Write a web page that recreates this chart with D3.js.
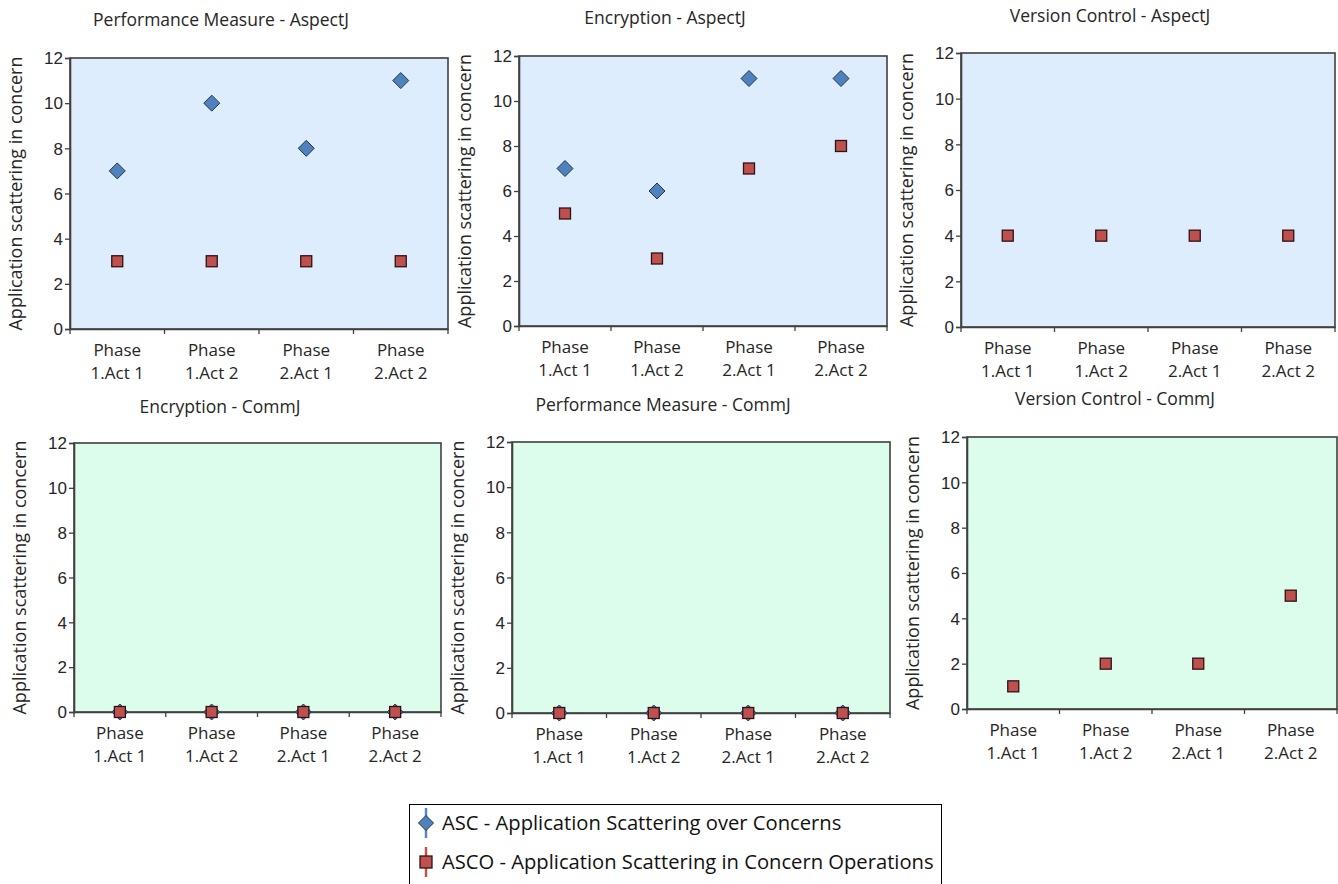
<!DOCTYPE html>
<html>
<head>
<meta charset="utf-8">
<script src="https://cdn.jsdelivr.net/npm/d3@7"></script>
<style>
  html, body { margin: 0; padding: 0; background: #ffffff; }
  svg { display: block; font-family: "Open Sans", "Noto Sans", sans-serif; }
</style>
</head>
<body>
<svg id="chart" width="1338" height="884"></svg>
<script>
// Activities on the x axis (first word on line one, rest on line two)
const categories = ["Phase 1.Act 1", "Phase 1.Act 2", "Phase 2.Act 1", "Phase 2.Act 2"];
const yTicks = [0, 2, 4, 6, 8, 10, 12];

const seriesNames = [
  "ASC - Application Scattering over Concerns",
  "ASCO - Application Scattering in Concern Operations"
];

// ASC / ASCO values per concern and language
const perfAspectJ_ASC  = [7, 10, 8, 11];
const perfAspectJ_ASCO = [3, 3, 3, 3];
const encAspectJ_ASC   = [7, 6, 11, 11];
const encAspectJ_ASCO  = [5, 3, 7, 8];
const verAspectJ_ASC   = [];
const verAspectJ_ASCO  = [4, 4, 4, 4];
const encCommJ_ASC     = [0, 0, 0, 0];
const encCommJ_ASCO    = [0, 0, 0, 0];
const perfCommJ_ASC    = [0, 0, 0, 0];
const perfCommJ_ASCO   = [0, 0, 0, 0];
const verCommJ_ASC     = [];
const verCommJ_ASCO    = [1, 2, 2, 5];

const titles = [
  "Performance Measure - AspectJ", "Encryption - AspectJ", "Version Control - AspectJ",
  "Encryption - CommJ", "Performance Measure - CommJ", "Version Control - CommJ"
];

const yLabel = "Application scattering in concern";

// Plot-area frames and title anchors for the six small charts
const frames = [
  { x0: 70,  x1: 448,  y0: 58,  y1: 329, tx: 221,  ty: 20,  bg: "#deedfd" },
  { x0: 519, x1: 887,  y0: 56,  y1: 326, tx: 665,  ty: 18,  bg: "#deedfd" },
  { x0: 961, x1: 1335, y0: 53,  y1: 327, tx: 1110, ty: 16,  bg: "#deedfd" },
  { x0: 74,  x1: 441,  y0: 443, y1: 712, tx: 220,  ty: 407, bg: "#dcfdec" },
  { x0: 512, x1: 890,  y0: 442, y1: 713, tx: 663,  ty: 405, bg: "#dcfdec" },
  { x0: 967, x1: 1337, y0: 437, y1: 709, tx: 1115, ty: 399, bg: "#dcfdec" }
];

const panelData = [
  [perfAspectJ_ASC, perfAspectJ_ASCO],
  [encAspectJ_ASC,  encAspectJ_ASCO],
  [verAspectJ_ASC,  verAspectJ_ASCO],
  [encCommJ_ASC,    encCommJ_ASCO],
  [perfCommJ_ASC,   perfCommJ_ASCO],
  [verCommJ_ASC,    verCommJ_ASCO]
];

const textColor = "#262626";
const axisColor = "#404040";
const ascFill = "#4f81bd", ascStroke = "#1f3550";
const ascoFill = "#c0504d", ascoStroke = "#2b1414";

const svg = d3.select("#chart");

function diamondPath(r) {
  return `M0,${-r}L${r},0L0,${r}L${-r},0Z`;
}

frames.forEach((f, i) => {
  const g = svg.append("g");
  const [asc, asco] = panelData[i];

  const x = d3.scaleBand().domain(categories).range([f.x0, f.x1]).padding(0);
  const y = d3.scaleLinear().domain([0, 12]).range([f.y1, f.y0]);

  // plot background + frame
  g.append("rect")
    .attr("x", f.x0).attr("y", f.y0)
    .attr("width", f.x1 - f.x0).attr("height", f.y1 - f.y0)
    .attr("fill", f.bg)
    .attr("stroke", axisColor).attr("stroke-width", 1.6);

  // y axis
  const yAxis = g.append("g")
    .attr("transform", `translate(${f.x0},0)`)
    .call(d3.axisLeft(y).tickValues(yTicks).tickSize(5).tickPadding(2));
  yAxis.select(".domain").attr("stroke", axisColor).attr("stroke-width", 1.6);
  yAxis.selectAll(".tick line").attr("stroke", axisColor).attr("stroke-width", 1.3);
  yAxis.selectAll(".tick text")
    .attr("fill", textColor).style("font-size", "17px").attr("dy", "0.34em");

  // x axis: ticks at category boundaries
  const xAxis = g.append("g")
    .attr("transform", `translate(0,${f.y1})`)
    .call(d3.axisBottom(x).tickSize(0).tickFormat(""));
  xAxis.select(".domain").attr("stroke", axisColor).attr("stroke-width", 1.6);
  const bounds = categories.map(c => x(c)).concat([f.x1]);
  g.selectAll(".xbound").data(bounds).join("line")
    .attr("x1", d => d).attr("x2", d => d)
    .attr("y1", f.y1).attr("y2", f.y1 + 5)
    .attr("stroke", axisColor).attr("stroke-width", 1.3);

  // two-line category labels
  categories.forEach(c => {
    const sp = c.indexOf(" ");
    const cx = x(c) + x.bandwidth() / 2;
    const t = g.append("text")
      .attr("text-anchor", "middle")
      .attr("fill", textColor)
      .style("font-size", "17px");
    t.append("tspan").attr("x", cx).attr("y", f.y1 + 27).text(c.slice(0, sp));
    t.append("tspan").attr("x", cx).attr("y", f.y1 + 50).text(c.slice(sp + 1));
  });

  // y axis title
  const cy = (f.y0 + f.y1) / 2;
  g.append("text")
    .attr("transform", `translate(${f.x0 - 54},${cy}) rotate(-90)`)
    .attr("text-anchor", "middle")
    .attr("dy", "0.35em")
    .attr("fill", textColor)
    .style("font-size", "18px")
    .text(yLabel);

  // panel title
  g.append("text")
    .attr("x", f.tx).attr("y", f.ty)
    .attr("dy", "0.35em")
    .attr("text-anchor", "middle")
    .attr("fill", textColor)
    .style("font-size", "17.5px")
    .text(titles[i]);

  // ASC diamonds
  g.selectAll(".asc").data(asc).join("path")
    .attr("d", diamondPath(8))
    .attr("transform", (d, j) => `translate(${x(categories[j]) + x.bandwidth() / 2},${y(d)})`)
    .attr("fill", ascFill).attr("stroke", ascStroke).attr("stroke-width", 1);

  // ASCO squares
  g.selectAll(".asco").data(asco).join("rect")
    .attr("x", (d, j) => x(categories[j]) + x.bandwidth() / 2 - 5.5)
    .attr("y", d => y(d) - 5.5)
    .attr("width", 11).attr("height", 11)
    .attr("fill", ascoFill).attr("stroke", ascoStroke).attr("stroke-width", 1.3);
});

// legend
const lg = svg.append("g");
lg.append("rect")
  .attr("x", 409.5).attr("y", 804.5)
  .attr("width", 532).attr("height", 90)
  .attr("fill", "#ffffff").attr("stroke", "#000000").attr("stroke-width", 1);

const legendRows = [
  { y: 823, fill: ascFill, stroke: ascStroke, line: "#5b86c0", kind: "diamond" },
  { y: 862, fill: ascoFill, stroke: ascoStroke, line: "#c9504d", kind: "square" }
];
legendRows.forEach((r, i) => {
  lg.append("line")
    .attr("x1", 426).attr("x2", 426)
    .attr("y1", r.y - 15).attr("y2", r.y + 15)
    .attr("stroke", r.line).attr("stroke-width", 2.5);
  if (r.kind === "diamond") {
    lg.append("path").attr("d", diamondPath(7.5))
      .attr("transform", `translate(426,${r.y})`)
      .attr("fill", r.fill).attr("stroke", r.stroke).attr("stroke-width", 1);
  } else {
    lg.append("rect").attr("x", 420).attr("y", r.y - 6)
      .attr("width", 12).attr("height", 12)
      .attr("fill", r.fill).attr("stroke", r.stroke).attr("stroke-width", 1.3);
  }
  lg.append("text")
    .attr("x", 442).attr("y", r.y)
    .attr("dy", "0.35em")
    .attr("fill", "#111111")
    .style("font-size", "20.2px")
    .text(seriesNames[i]);
});
</script>
</body>
</html>
